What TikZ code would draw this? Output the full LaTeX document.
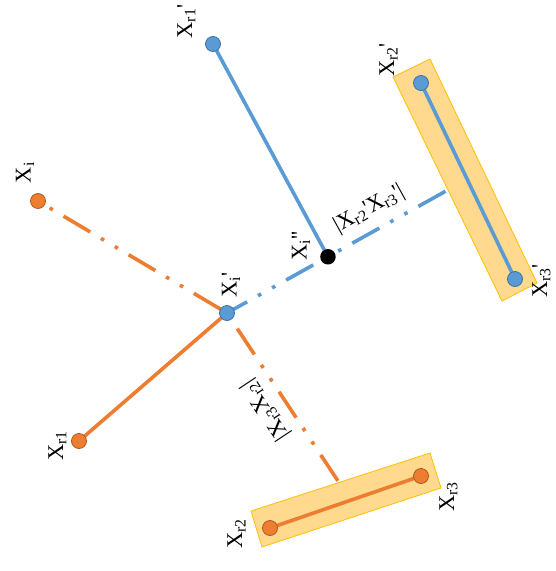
\documentclass[tikz,border=0pt]{standalone}
\usepackage{fontspec}
\setmainfont{Liberation Serif}
\usetikzlibrary{calc}
\definecolor{lblue}{HTML}{5B9BD5}
\definecolor{dblue}{HTML}{41719C}
\definecolor{lorange}{HTML}{ED7D31}
\definecolor{dorange}{HTML}{AE5A21}
\definecolor{boxfill}{RGB}{255,217,142}
\definecolor{boxline}{HTML}{FFC000}
\newcommand{\pr}{\textquotesingle}
\begin{document}
\begin{tikzpicture}[x=1pt,y=-1pt,
  solidline/.style={line width=3.6pt},
  dddash/.style={line width=3.6pt, line cap=butt, dash pattern=on 31pt off 12.5pt on 3.6pt off 12.5pt on 3.6pt off 12.5pt},
  bdot/.style={circle, draw=dblue, fill=lblue, line width=0.8pt, minimum size=15pt, inner sep=0pt},
  odot/.style={circle, draw=dorange, fill=lorange, line width=0.8pt, minimum size=15pt, inner sep=0pt},
  kdot/.style={circle, fill=black, minimum size=15.5pt, inner sep=0pt},
  lbl/.style={font=\fontsize{22.5}{26}\selectfont, inner sep=0pt},
  segbox/.style={fill=boxfill, draw=boxline, line width=0.8pt}]
\useasboundingbox (0,0) rectangle (556,571);
% boxes
\draw[segbox] (393,77) -- (430,59) -- (537,283) -- (502,301) -- cycle;
\draw[segbox] (251,511) -- (430,453) -- (441,488) -- (262,547) -- cycle;
% positions
\coordinate (Xr1p) at (213,44);
\coordinate (Xr2p) at (421,83);
\coordinate (Xr3p) at (515,279);
\coordinate (Xi) at (38,201);
\coordinate (Xip) at (227,313);
\coordinate (E1) at (446,191);
\coordinate (Xipp) at ($(Xip)!0.461!(E1)$);
\coordinate (Xr1) at (79,441);
\coordinate (Xr2) at (270,528);
\coordinate (Xr3) at (421,476);
\coordinate (E2) at (338,481);
% connectors
\draw[solidline, lblue] (Xr1p) -- (Xipp);
\draw[solidline, lblue] (Xr2p) -- (Xr3p);
\draw[dddash, lblue, dash phase=8pt] (Xip) -- (E1);
\draw[dddash, lorange, dash phase=46pt] (Xi) -- (Xip);
\draw[dddash, lorange, dash phase=57pt] (Xip) -- (E2);
\draw[solidline, lorange] (Xr1) -- (Xip);
\draw[solidline, lorange] (Xr2) -- (Xr3);
% dots
\node[bdot] (Xr1p-d) at (Xr1p) {};
\node[bdot] (Xr2p-d) at (Xr2p) {};
\node[bdot] (Xr3p-d) at (Xr3p) {};
\node[bdot] (Xip-d) at (Xip) {};
\node[kdot] (Xipp-d) at (Xipp) {};
\node[odot] (Xi-d) at (Xi) {};
\node[odot] (Xr1-d) at (Xr1) {};
\node[odot] (Xr2-d) at (Xr2) {};
\node[odot] (Xr3-d) at (Xr3) {};
% labels
\node[lbl, rotate=90] (Xr1p-l) at (186.5,21.5) {X\textsubscript{r1}\pr};
\node[lbl, rotate=90] (Xr2p-l) at (388.5,60) {X\textsubscript{r2}\pr};
\node[lbl, rotate=90] (Xr3p-l) at (541.5,281) {X\textsubscript{r3}\pr};
\node[lbl, rotate=90] (Xi-l) at (25,172.5) {X\textsubscript{i}};
\node[lbl, rotate=90] (Xip-l) at (231,285) {X\textsubscript{i}\pr};
\node[lbl, rotate=90] (Xipp-l) at (301,246) {X\textsubscript{i}\pr\pr};
\node[lbl, rotate=90] (Xr1-l) at (57.5,446) {X\textsubscript{r1}};
\node[lbl, rotate=90] (Xr2-l) at (236.5,534) {X\textsubscript{r2}};
\node[lbl, rotate=90] (Xr3-l) at (448.5,497) {X\textsubscript{r3}};
\node[lbl, rotate=29] (d1-l) at (369,209) {|X\textsubscript{r2}\pr X\textsubscript{r3}\pr|};
\node[lbl, rotate=123.6] (d2-l) at (266,410) {|X\textsubscript{r3}X\textsubscript{r2}|};
\end{tikzpicture}
\end{document}
